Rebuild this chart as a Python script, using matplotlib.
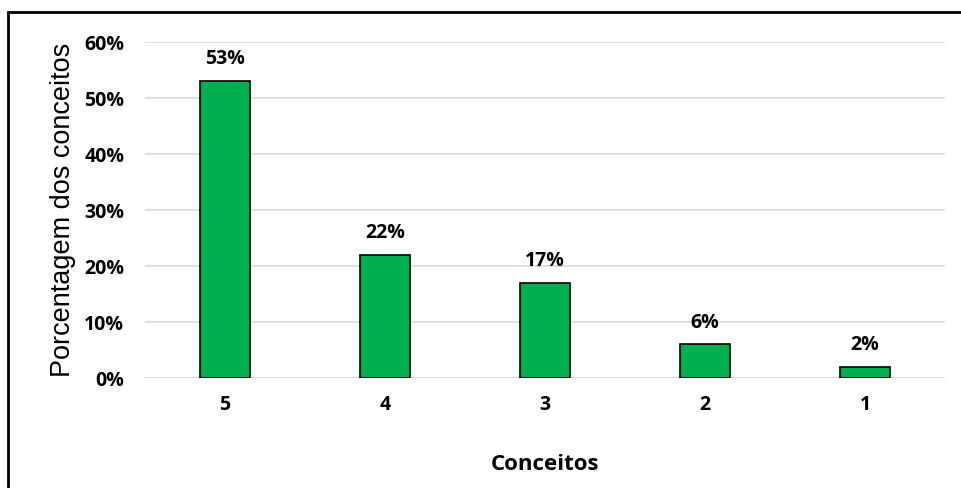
import matplotlib.pyplot as plt
from matplotlib.patches import Rectangle
from matplotlib.ticker import FuncFormatter

conceitos = ["5", "4", "3", "2", "1"]
porcentagem = [53, 22, 17, 6, 2]

fig = plt.figure(figsize=(9.62, 4.88), dpi=100)
ax = fig.add_axes([145 / 962, 1 - 378 / 488, 800 / 962, 336 / 488])

x = range(len(conceitos))
ax.bar(x, porcentagem, width=0.31, color="#00B050", edgecolor="black", linewidth=1.2, zorder=3)

for i, v in enumerate(porcentagem):
    ax.text(i, v + 2.1, f"{v}%", ha="center", va="bottom",
            fontsize=14, fontweight="bold", family="Open Sans")

ax.set_xlim(-0.5, len(conceitos) - 0.5)
ax.set_ylim(0, 60)
ax.set_yticks(range(0, 61, 10))
ax.yaxis.set_major_formatter(FuncFormatter(lambda v, p: f"{v:.0f}%"))
ax.set_xticks(list(x))
ax.set_xticklabels(conceitos)
ax.grid(axis="y", color="#d9d9d9", linewidth=1.2, zorder=0)
for s in ax.spines.values():
    s.set_visible(False)
ax.tick_params(length=0, labelsize=14)
ax.tick_params(axis="x", pad=12)
ax.tick_params(axis="y", pad=15)
for lab in ax.get_xticklabels() + ax.get_yticklabels():
    lab.set_fontweight("bold")
    lab.set_family("Open Sans")

ax.set_xlabel("Conceitos", fontsize=16, fontweight="bold", family="Open Sans", labelpad=28)
ax.set_ylabel("Porcentagem dos conceitos", fontsize=19.5, family="Liberation Sans", labelpad=6)

fig.patches.append(Rectangle((8 / 962, -0.1), 1.2, (1 - 12 / 488) + 0.1,
                             transform=fig.transFigure, fill=False,
                             edgecolor="black", linewidth=2))

fig.savefig("out.png", dpi=100)
